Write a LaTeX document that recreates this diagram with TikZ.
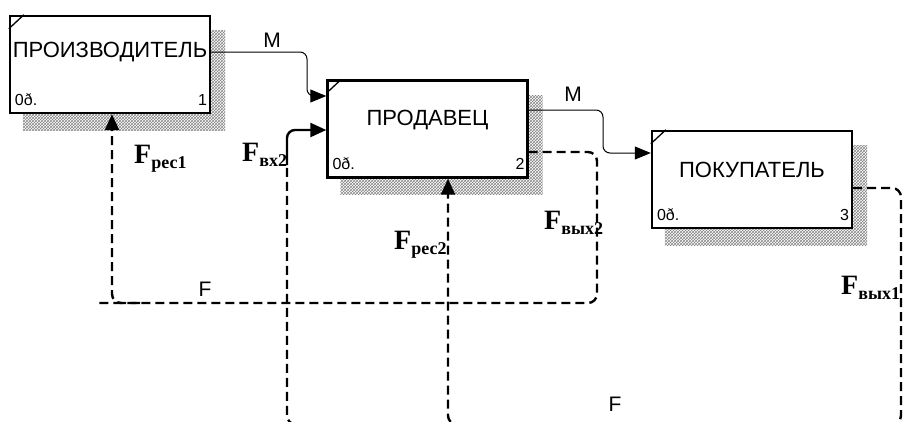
\documentclass[tikz,border=0pt]{standalone}
\usepackage{fontspec}
\setmainfont{Liberation Serif}
\newfontfamily\arialf{Liberation Sans}
\usetikzlibrary{arrows.meta,patterns,backgrounds}

\tikzset{
  funcbox/.style={draw, line width=2.4pt, fill=white, minimum width=200pt,
    minimum height=97pt, inner sep=0pt},
  boxtitle/.style={font=\arialf\fontsize{22}{24}\selectfont, inner sep=0pt},
  boxtag/.style={font=\arialf\fontsize{16}{18}\selectfont, inner sep=0pt},
  boxshadow/.style={pattern=crosshatch, pattern color=gray!95},
  arcm/.style={line width=1pt, rounded corners=7pt,
    -{Triangle[length=16pt,width=13pt]}},
  arcf/.style={line width=2.4pt, dash pattern=on 9pt off 5pt, rounded corners=9pt},
  arctip/.style={-{Triangle[length=16pt,width=14pt]}},
  arclab/.style={font=\arialf\fontsize{21}{24}\selectfont, inner sep=0pt},
  flab/.style={font=\bfseries\fontsize{28}{30}\selectfont, inner sep=0pt,
    anchor=base west},
}
\newcommand{\flowsub}[1]{F\raisebox{-5pt}{\fontsize{18}{20}\selectfont #1}}

\begin{document}
\begin{tikzpicture}[x=1pt, y=-1pt]
    \useasboundingbox (0,0) rectangle (903,421);
    \clip (0,0) rectangle (903,421);

    % Function blocks
    \node[funcbox] (prod) at (110,64.5) {};
    \node[funcbox] (sell) at (427.5,129) {};
    \node[funcbox] (buy) at (752,179.5) {};

    \node[boxtitle] (prodtxt) at ([yshift=12.5pt]prod.center) {ПРОИЗВОДИТЕЛЬ};
    \node[boxtitle] (selltxt) at ([yshift=9pt]sell.center) {ПРОДАВЕЦ};
    \node[boxtitle] (buytxt) at ([yshift=9.5pt]buy.center) {ПОКУПАТЕЛЬ};

    \foreach \b/\n in {prod/1, sell/2, buy/3} {
        \node[boxtag, anchor=base west] (\b tag) at ([shift={(6pt,9pt)}]\b.south west) {0ð.};
        \node[boxtag, anchor=base east] (\b num) at ([shift={(-4pt,9pt)}]\b.south east) {\n};
        \draw[line width=1.3pt] ([yshift=-14pt]\b.north west) -- ([xshift=15pt]\b.north west);
    }

    % Shadows
    \begin{scope}[on background layer]
        \foreach \b in {prod, sell, buy}
            \fill[boxshadow] ([shift={(14pt,-16pt)}]\b.north west) rectangle ([shift={(14pt,-16pt)}]\b.south east);
    \end{scope}

    % M links
    \draw[arcm] ([yshift=12.5pt]prod.east) -- (307,52) -- (307,96) -- ([yshift=33pt]sell.west);
    \draw[arcm] ([yshift=19pt]sell.east) -- (603,110) -- (603,153) -- ([yshift=26.5pt]buy.west);
    \node[arclab] (m1) at (272,40) {M};
    \node[arclab] (m2) at (573,94) {M};

    % F links, upper loop
    \draw[arcf] ([yshift=-23pt]sell.east) -- (597,152) -- (597,303) -- (97,303);
    \draw[arcf, arctip] (140,303) -- (112,303) -- ([xshift=2pt]prod.south);
    \node[arclab] (f1) at (205,289) {F};

    % F links, lower loop
    \coordinate (vx2) at (287,165);
    \draw[arcf] ([yshift=-8.5pt]buy.east) -- (901,188) -- (901,424.5) -- (287,424.5) -- (vx2);
    \draw[line width=2.4pt, rounded corners=8pt, arctip] (vx2) -- (287,130) -- ([yshift=-1pt]sell.west);
    \draw[arcf, arctip] (520,424.5) -- (448,424.5) -- ([xshift=20.5pt]sell.south);
    \node[arclab] (f2) at (615,404) {F};

    % Flow labels
    \node[flab] (frec1) at (134,163) {\flowsub{рес1}};
    \node[flab] (fvx2) at (242,161) {\flowsub{вх2}};
    \node[flab] (frec2) at (394,249) {\flowsub{рес2}};
    \node[flab] (fvyx2) at (544,229) {\flowsub{вых2}};
    \node[flab] (fvyx1) at (841,294) {\flowsub{вых1}};
\end{tikzpicture}
\end{document}
